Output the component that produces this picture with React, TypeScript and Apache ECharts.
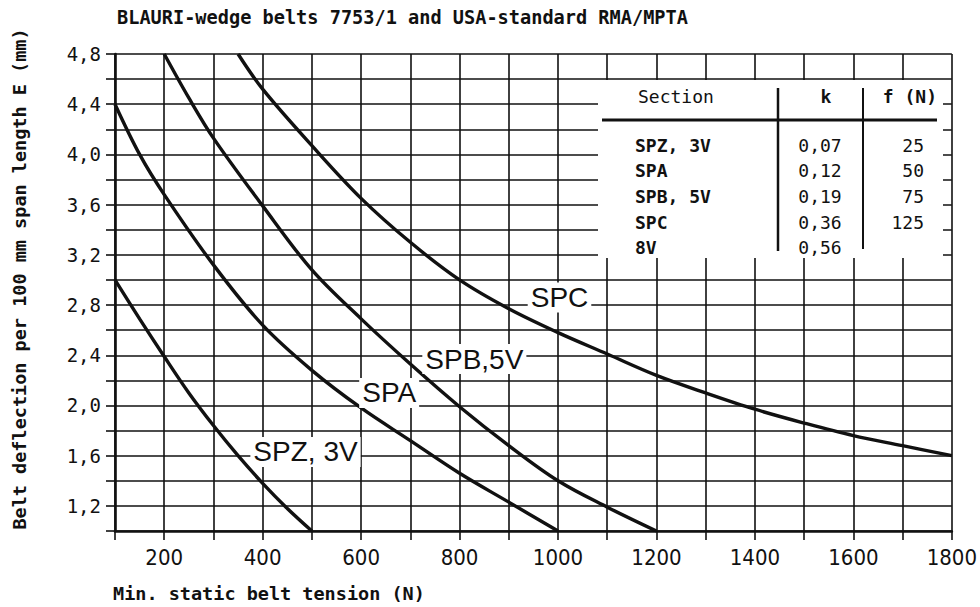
import React, { useEffect, useRef } from "react";
import * as echarts from "echarts";

// ---- data ----
const TITLE = "BLAURI-wedge belts 7753/1 and USA-standard RMA/MPTA";
const X_NAME = "Min. static belt tension (N)";
const Y_NAME = "Belt deflection per 100 mm span length E (mm)";

// [tension N, deflection mm]
const SPZ_3V = [[100, 3.0], [150, 2.69], [200, 2.39], [250, 2.1], [300, 1.84], [350, 1.6], [400, 1.38], [450, 1.18], [500, 1.0]];
const SPA = [[100, 4.4], [150, 4.0], [200, 3.68], [300, 3.12], [400, 2.64], [500, 2.28], [600, 1.98], [700, 1.72], [800, 1.46], [900, 1.23], [1000, 1.0]];
const SPB_5V = [[200, 4.8], [250, 4.45], [300, 4.13], [400, 3.59], [500, 3.08], [600, 2.69], [700, 2.33], [800, 1.99], [900, 1.68], [1000, 1.4], [1100, 1.19], [1200, 1.0]];
const SPC = [[350, 4.8], [400, 4.52], [500, 4.07], [600, 3.65], [700, 3.3], [800, 3.0], [900, 2.77], [1000, 2.58], [1100, 2.41], [1200, 2.24], [1300, 2.1], [1400, 1.97], [1500, 1.86], [1600, 1.76], [1700, 1.68], [1800, 1.6]];

const CURVE_NAMES = ["SPZ, 3V", "SPA", "SPB,5V", "SPC"];
const CURVE_LABEL_AT = [[487, 1.63], [657, 2.1], [830, 2.37], [1003, 2.86]];

const TABLE_HEAD = ["Section", "k", "f (N)"];
const TABLE_SECTIONS = ["SPZ, 3V", "SPA", "SPB, 5V", "SPC", "8V"];
const TABLE_K = ["0,07", "0,12", "0,19", "0,36", "0,56"];
const TABLE_F = ["25", "50", "75", "125", ""];

const X_MIN = 100, X_MAX = 1800, X_STEP = 100;
const Y_MIN = 1.0, Y_MAX = 4.8, Y_STEP = 0.2;

const MONO = '"DejaVu Sans Mono", monospace';
const INK = "#111";

export default function App() {
  const ref = useRef<HTMLDivElement>(null);
  useEffect(() => {
    if (!ref.current) return;
    const chart = echarts.init(ref.current, null, { renderer: "svg" });
    const curves = [SPZ_3V, SPA, SPB_5V, SPC];
    const rowY = [145, 170, 196, 222, 247];
    const graphic: any[] = [
      { type: "text", x: 117, y: 17, z: 60, style: { text: TITLE, font: `bold 18.6px ${MONO}`, fill: INK, textVerticalAlign: "middle" } },
      { type: "text", x: 113, y: 593, z: 60, style: { text: X_NAME, font: `bold 18.5px ${MONO}`, fill: INK, textVerticalAlign: "middle" } },
      { type: "text", x: 19, y: 279, rotation: Math.PI / 2, z: 60, style: { text: Y_NAME, font: `bold 18.5px ${MONO}`, fill: INK, textAlign: "center", textVerticalAlign: "middle" } },
      { type: "rect", z: 50, shape: { x: 598, y: 80, width: 345, height: 178 }, style: { fill: "#fff" } },
      { type: "line", z: 51, shape: { x1: 602, y1: 120, x2: 937, y2: 120 }, style: { stroke: INK, lineWidth: 3 } },
      { type: "line", z: 51, shape: { x1: 778, y1: 88, x2: 778, y2: 251 }, style: { stroke: INK, lineWidth: 2.5 } },
      { type: "line", z: 51, shape: { x1: 863, y1: 88, x2: 863, y2: 249 }, style: { stroke: INK, lineWidth: 2 } },
      { type: "text", x: 638, y: 96, z: 52, style: { text: TABLE_HEAD[0], font: `18px ${MONO}`, fill: INK, textVerticalAlign: "middle" } },
      { type: "text", x: 826, y: 96, z: 52, style: { text: TABLE_HEAD[1], font: `bold 18px ${MONO}`, fill: INK, textAlign: "center", textVerticalAlign: "middle" } },
      { type: "text", x: 937, y: 96, z: 52, style: { text: TABLE_HEAD[2], font: `bold 18px ${MONO}`, fill: INK, textAlign: "right", textVerticalAlign: "middle" } },
    ];
    TABLE_SECTIONS.forEach((s, i) => {
      graphic.push({ type: "text", x: 635, y: rowY[i], z: 52, style: { text: s, font: `bold 18px ${MONO}`, fill: INK, textVerticalAlign: "middle" } });
      graphic.push({ type: "text", x: 820, y: rowY[i], z: 52, style: { text: TABLE_K[i], font: `18px ${MONO}`, fill: INK, textAlign: "center", textVerticalAlign: "middle" } });
      if (TABLE_F[i]) graphic.push({ type: "text", x: 924, y: rowY[i], z: 52, style: { text: TABLE_F[i], font: `18px ${MONO}`, fill: INK, textAlign: "right", textVerticalAlign: "middle" } });
    });

    chart.setOption({
      animation: false,
      backgroundColor: "#fff",
      grid: { left: 115, right: 25, top: 54, bottom: 76, containLabel: false },
      xAxis: {
        type: "value", min: X_MIN, max: X_MAX, interval: X_STEP,
        axisLine: { show: true, onZero: false, lineStyle: { color: INK, width: 2.6 } },
        axisTick: { show: true, inside: false, length: 9, lineStyle: { color: INK, width: 1.6 } },
        splitLine: { show: true, lineStyle: { color: INK, width: 1.6 } },
        axisLabel: {
          margin: 15, color: INK, fontSize: 22,
          fontFamily: '"Liberation Sans Narrow", "DejaVu Sans Condensed", sans-serif',
          formatter: (v: number) => (v >= 200 && v % 200 === 0 ? String(v) : ""),
        },
      },
      yAxis: {
        type: "value", min: Y_MIN, max: Y_MAX, interval: Y_STEP,
        axisLine: { show: true, onZero: false, lineStyle: { color: INK, width: 2.6 } },
        axisTick: { show: true, inside: false, length: 9, lineStyle: { color: INK, width: 1.6 } },
        splitLine: { show: true, lineStyle: { color: INK, width: 1.6 } },
        axisLabel: {
          margin: 14, color: INK, fontSize: 19, fontFamily: MONO,
          formatter: (v: number) => {
            const n = Math.round(v * 10);
            return n >= 12 && (n - 12) % 4 === 0 ? (n / 10).toFixed(1).replace(".", ",") : "";
          },
        },
      },
      series: curves.map((d, i) => ({
        type: "line", name: CURVE_NAMES[i], data: d, smooth: 0.35,
        showSymbol: false, symbol: "none",
        lineStyle: { color: INK, width: 3.4 },
        markPoint: {
          symbol: "rect", symbolSize: 1, itemStyle: { color: "rgba(0,0,0,0)" },
          data: [{ coord: CURVE_LABEL_AT[i], value: CURVE_NAMES[i] }],
          label: {
            show: true, position: "inside", formatter: CURVE_NAMES[i], color: INK,
            fontSize: 28, fontFamily: '"Liberation Sans", Arial, sans-serif',
            backgroundColor: "#fff", padding: [1, 3],
          },
        },
      })),
      graphic,
    });
    return () => chart.dispose();
  }, []);
  return <div ref={ref} style={{ position: "fixed", left: 0, top: 0, width: 980, height: 607 }} />;
}
